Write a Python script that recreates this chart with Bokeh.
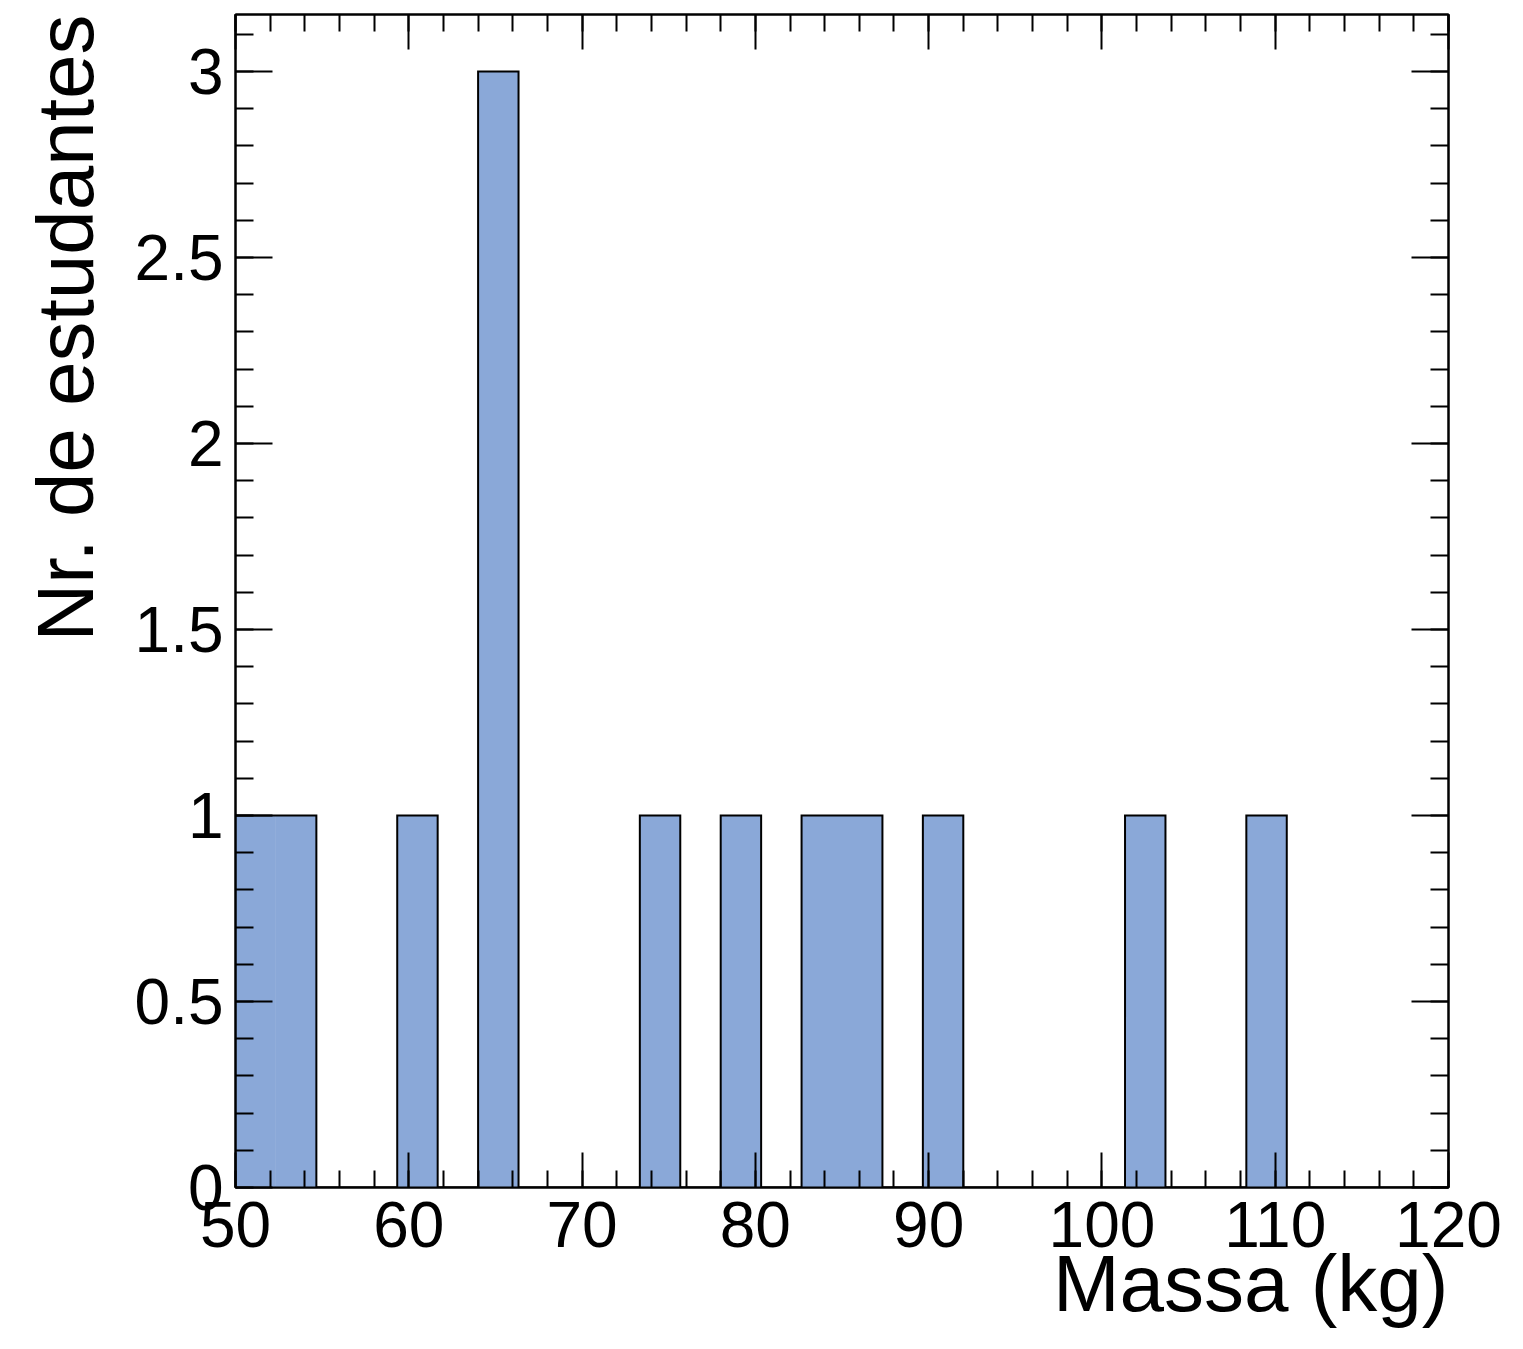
import numpy as np
from bokeh.plotting import figure
from bokeh.models import (LinearAxis, SingleIntervalTicker, NumeralTickFormatter,
                          CustomJSTickFormatter, Title, Range1d, ColumnDataSource)
from bokeh.embed import file_html
from bokeh.resources import INLINE

# ---- data -------------------------------------------------------------
x_min, x_max, n_bins = 50.0, 120.0, 30
counts = [1, 1, 0, 0, 1, 0, 3, 0, 0, 0,
          1, 0, 1, 0, 1, 1, 0, 1, 0, 0,
          0, 0, 1, 0, 0, 1, 0, 0, 0, 0]
x_title = "Massa (kg)"
y_title = "Nr. de estudantes"
y_max = 3.153

edges = [x_min + i * (x_max - x_min) / n_bins for i in range(n_bins + 1)]

FONT = "Liberation Sans"
FILL = "#8aa8d8"

p = figure(width=1507, height=1333,
           x_range=Range1d(x_min, x_max), y_range=Range1d(0, y_max),
           output_backend="svg", toolbar_location=None,
           min_border_left=235, min_border_right=59,
           min_border_top=14, min_border_bottom=146)
p.grid.visible = False
p.background_fill_color = "white"
p.border_fill_color = "white"
p.outline_line_color = "black"
p.outline_line_width = 2

# filled bins (no internal lines)
src = ColumnDataSource(dict(
    left=[edges[i] for i in range(n_bins) if counts[i] > 0],
    right=[edges[i + 1] for i in range(n_bins) if counts[i] > 0],
    top=[counts[i] for i in range(n_bins) if counts[i] > 0],
))
p.quad(left="left", right="right", top="top", bottom=0, source=src,
       fill_color=FILL, line_color=None)

# outline of the histogram
ox, oy = [edges[0]], [0]
for i in range(n_bins):
    ox += [edges[i], edges[i + 1]]
    oy += [counts[i], counts[i]]
ox.append(edges[-1]); oy.append(0)
p.line(ox, oy, line_color="black", line_width=2, line_join="miter")


def style(axis, interval, major_len, minor_len, labels=True):
    axis.ticker = SingleIntervalTicker(interval=interval, num_minor_ticks=5)
    axis.major_tick_in = major_len
    axis.major_tick_out = 0
    axis.minor_tick_in = minor_len
    axis.minor_tick_out = 0
    axis.major_tick_line_width = 2
    axis.minor_tick_line_width = 2
    axis.axis_line_width = 2
    axis.major_tick_line_color = "black"
    axis.minor_tick_line_color = "black"
    axis.axis_line_color = "black"
    if labels:
        axis.major_label_text_font = FONT
        axis.major_label_text_font_size = "64px"
        axis.major_label_text_color = "black"
    else:
        axis.formatter = CustomJSTickFormatter(code="return ''")
        axis.major_label_standoff = 0


style(p.xaxis[0], 10, 35, 17)
p.xaxis[0].major_label_standoff = 14
style(p.yaxis[0], 0.5, 37, 18)
p.yaxis[0].major_label_standoff = 12
p.yaxis[0].formatter = NumeralTickFormatter(format="0.[0]")

top_axis = LinearAxis()
style(top_axis, 10, 35, 17, labels=False)
p.add_layout(top_axis, "above")
right_axis = LinearAxis()
style(right_axis, 0.5, 37, 18, labels=False)
p.add_layout(right_axis, "right")

# axis titles (right-aligned, ROOT style)
xt = Title(text=x_title, align="right", vertical_align="bottom",
           text_font=FONT, text_font_size="80px", text_font_style="normal",
           text_color="black", standoff=-26)
p.add_layout(xt, "below")
yt = Title(text=y_title, align="right", vertical_align="top",
           text_font=FONT, text_font_size="80px", text_font_style="normal",
           text_color="black", standoff=40)
p.add_layout(yt, "left")

open("out.html", "w").write(file_html(p, INLINE))
